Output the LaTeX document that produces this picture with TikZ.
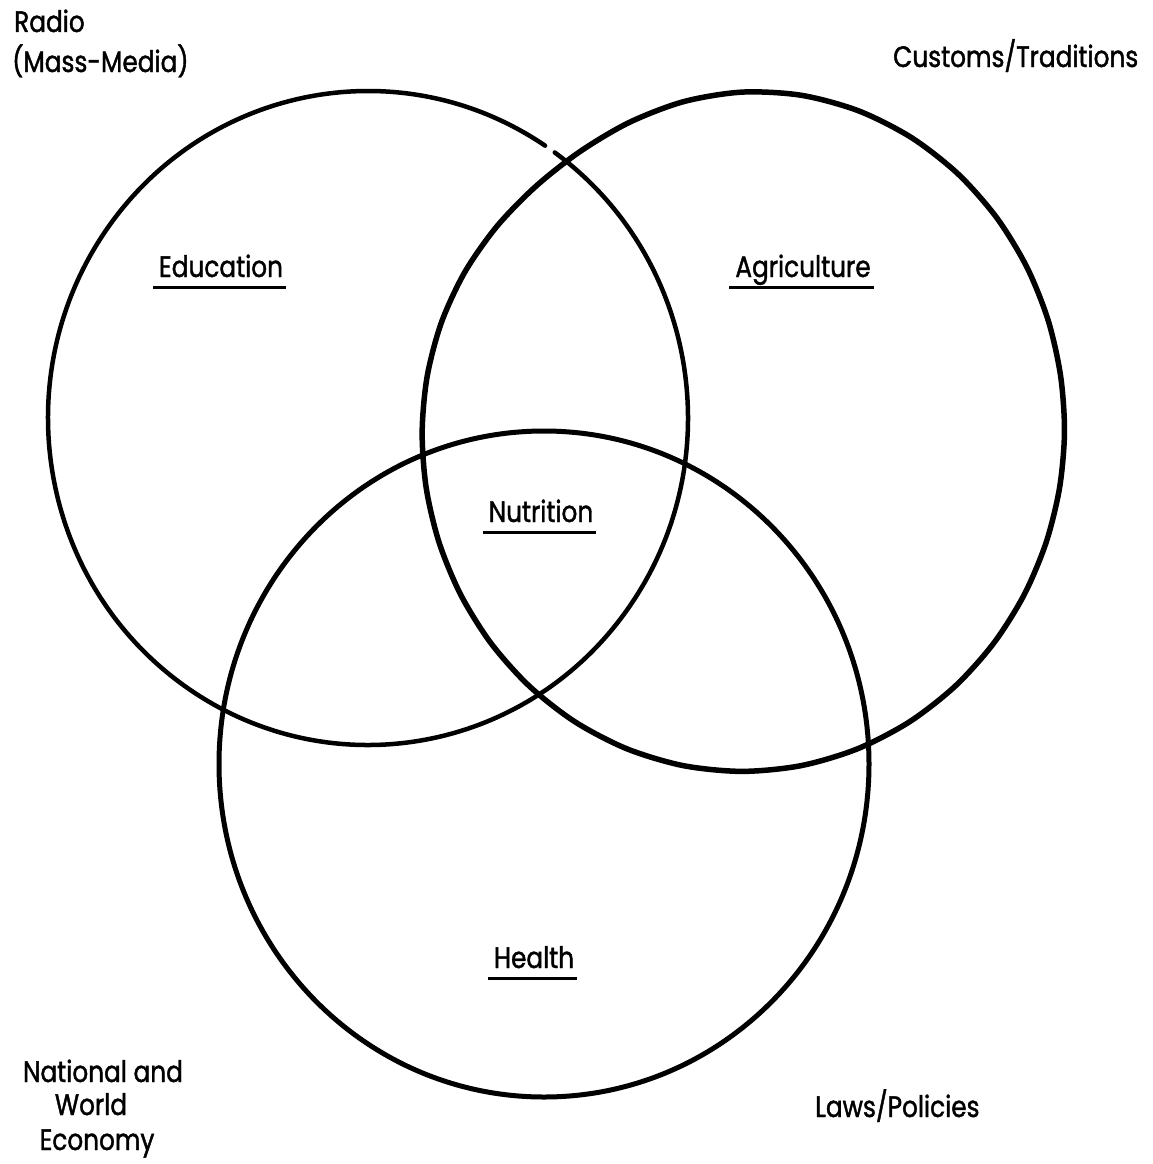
\documentclass[tikz,border=0pt]{standalone}
\usepackage{fontspec}
\setmainfont{Poppins}[FakeStretch=0.84,FakeBold=1.4]
\usetikzlibrary{calc}
\begin{document}
\begin{tikzpicture}[x=1pt,y=-1pt,
  ring/.style={line width=#1,line join=round,line cap=round},
  lbl/.style={inner sep=0pt,font=\fontsize{29.5}{34}\selectfont},
  uline/.style={line width=3pt},
  % radius of the hand-drawn Agriculture ring, a little flattened towards the upper left
  declare function={agr(\t)=333-10.5*cos(2*\t)-4*sin(\t)-18/(1+((\t-237)/45)^2)^2;}]
\useasboundingbox (0,0) rectangle (1152,1164);

% Education (the pen lifts briefly just before the top crossing)
\draw[ring=4.5pt] (368,418) ++(-54.3:320 and 327)
  arc[start angle=-54.3, end angle=303.6, x radius=320, y radius=327];

% Agriculture
\draw[ring=5.5pt] plot[smooth cycle, domain=0:350, samples=36, variable=\t]
  ({742+agr(\t)*cos(\t)}, {432+agr(\t)*sin(\t)});

% Health
\draw[ring=5pt] (544,764) ellipse [x radius=325, y radius=333];

% circle labels
\node[lbl,anchor=base] (edu) at (221,277) {Education};
\node[lbl,anchor=base] (agr) at (803,277) {Agriculture};
\node[lbl,anchor=base] (nut) at (541,522) {Nutrition};
\node[lbl,anchor=base] (hea) at (534,968) {Health};
\foreach \n in {edu,agr,nut,hea}
  \draw[uline] ($(\n.base west)+(-6,10)$) -- ($(\n.base east)+(3,10)$);

% surrounding influences
\node[lbl,anchor=base west] (radio) at (14,32) {Radio};
\node[lbl,anchor=base west] (media) at (12,72) {(Mass-Media)};
\node[lbl,anchor=base west] (cust) at (893,67) {Customs/Traditions};
\node[lbl,anchor=base] (nat) at (103,1082) {National and};
\node[lbl,anchor=base] (world) at (91,1115) {World};
\node[lbl,anchor=base] (econ) at (97,1150) {Economy};
\node[lbl,anchor=base west] (laws) at (815,1117) {Laws/Policies};
\end{tikzpicture}
\end{document}
